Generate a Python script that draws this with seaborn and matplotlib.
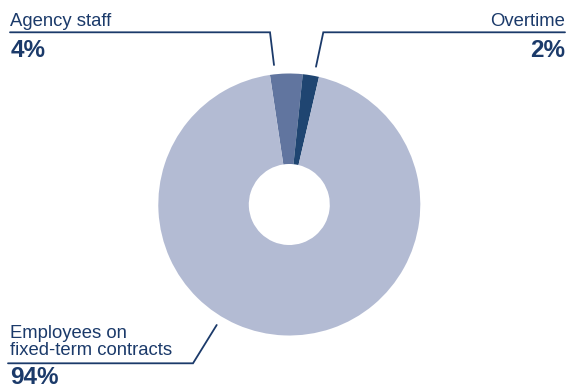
import matplotlib
matplotlib.use("Agg")
import matplotlib.pyplot as plt
import seaborn as sns

# Share of flexible staffing by type
categories = ["Agency staff", "Overtime", "Employees on\nfixed-term contracts"]
shares = [4, 2, 94]
value_labels = ["4%", "2%", "94%"]

sns.set_theme(style="white")
plt.rcParams["font.family"] = ["Liberation Sans", "DejaVu Sans"]

W, H = 567, 388
navy = "#1b3a6a"
slice_colors = ["#61759f", "#1f4571", "#b3bbd3"]

fig = plt.figure(figsize=(W / 100, H / 100), dpi=100)
ax = fig.add_axes([0, 0, 1, 1])


def fy(y):
    """Convert a top-down pixel row to data y."""
    return H - y


# Donut: clockwise, first slice starting just left of 12 o'clock
ax.pie(
    shares,
    colors=slice_colors,
    startangle=98.5,
    counterclock=False,
    center=(289.3, fy(204.5)),
    radius=131,
    wedgeprops=dict(width=131 - 40.5, linewidth=0),
    frame=True,
)
ax.set_xlim(0, W)
ax.set_ylim(0, H)
ax.set_aspect("equal")
ax.axis("off")

lw = 1.3
label_fs = 13.3
value_fs = 17.5

# Agency staff (top left)
ax.plot([10, 270, 274], [fy(32.3), fy(32.3), fy(65)], color=navy, lw=lw,
        solid_joinstyle="miter")
ax.text(10, fy(26), categories[0], color=navy, fontsize=label_fs,
        ha="left", va="baseline")
ax.text(10.5, fy(57.3), value_labels[0], color=navy, fontsize=value_fs,
        fontweight="bold", ha="left", va="baseline")

# Overtime (top right)
ax.plot([565, 323.3, 316], [fy(32.3), fy(32.3), fy(66.7)], color=navy, lw=lw,
        solid_joinstyle="miter")
ax.text(565, fy(26), categories[1], color=navy, fontsize=label_fs,
        ha="right", va="baseline")
ax.text(565, fy(57.3), value_labels[1], color=navy, fontsize=value_fs,
        fontweight="bold", ha="right", va="baseline")

# Employees on fixed-term contracts (bottom left)
ax.plot([8, 193, 216.7], [fy(363.3), fy(363.3), fy(325)], color=navy, lw=lw,
        solid_joinstyle="miter")
for i, line in enumerate(categories[2].split("\n")):
    ax.text(10, fy(337.7 + 17.3 * i), line, color=navy, fontsize=label_fs,
            ha="left", va="baseline")
ax.text(10.5, fy(383.5), value_labels[2], color=navy, fontsize=value_fs,
        fontweight="bold", ha="left", va="baseline")

fig.savefig("out.png", dpi=100, facecolor="white")
